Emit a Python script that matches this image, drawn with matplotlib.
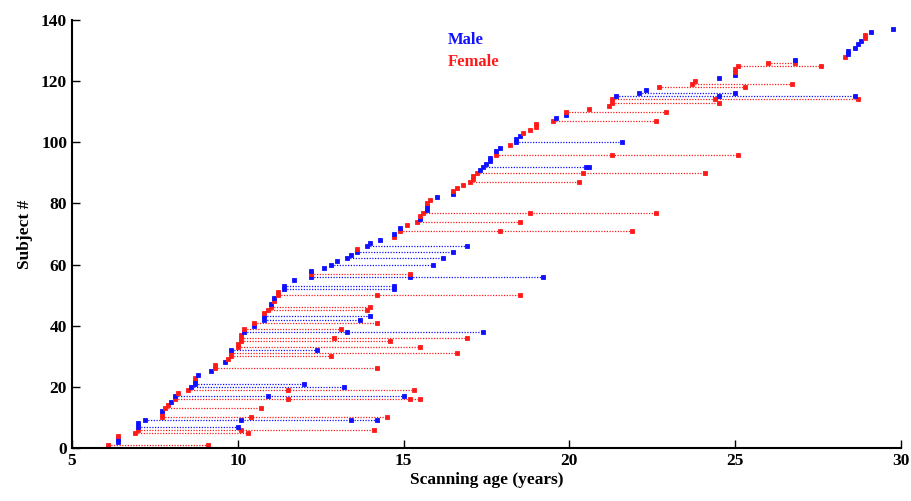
import matplotlib
matplotlib.use('Agg')
import matplotlib.pyplot as plt

plt.rcParams['font.family'] = ['Liberation Serif', 'DejaVu Serif']
plt.rcParams['font.weight'] = 'bold'

# subject number, sex and scanning ages (years)
subjects = list(range(1, 54)) + list(range(55, 138))
sex = list(
    "FMMFFFMMMF"   # 1-10
    "FMFFMFMFFM"   # 11-20
    "MMFMMFFMFF"   # 21-30
    "FMFFFFFMFM"   # 31-40
    "FMMFFFMFMF"   # 41-50
    "FMM"          # 51-53
    "MMFMMMMMMM"   # 55-64
    "FMMMFMFMFF"   # 65-74
    "MFFMMFFMMF"   # 75-84
    "FFFFFFMMMM"   # 85-94
    "MFMMFMMMFF"   # 95-104
    "FFFMMFFFFF"   # 105-114
    "MMMFFFMMFF"   # 115-124
    "FFMFMMMMMF"   # 125-134
    "FMM"          # 135-137
)
scan_ages = [
    [6.1, 9.1], [6.4], [6.4], [6.4], [6.9, 10.3], [7.0, 10.1, 14.1], [7.0, 10.0], [7.0],
    [7.2, 10.1, 13.4, 14.2], [7.7, 10.4, 14.5], [7.7], [7.7], [7.8, 10.7], [7.9], [8.0],
    [8.1, 11.5, 15.2, 15.5], [8.1, 10.9, 15.0], [8.2], [8.5, 11.5, 15.3], [8.6, 13.2],
    [8.7, 12.0], [8.7], [8.7], [8.8], [9.2], [9.3, 14.2], [9.3], [9.6], [9.7], [9.8, 12.8],
    [9.8, 16.6], [9.8, 12.4], [10.0, 15.5], [10.0], [10.1, 14.6], [10.1, 12.9, 16.9], [10.1],
    [10.2, 13.3, 17.4], [10.2, 13.1], [10.5], [10.5, 14.2], [10.8, 13.7], [10.8, 14.0], [10.8],
    [10.9, 13.9], [11.0, 14.0], [11.0], [11.1], [11.1], [11.2, 14.2, 18.5], [11.2],
    [11.4, 14.7], [11.4, 14.7],
    [11.7], [12.2, 15.2, 19.2], [12.2, 15.2], [12.2], [12.6], [12.8, 15.9], [13.0],
    [13.3, 16.2], [13.4], [13.6, 16.5], [13.6], [13.9, 16.9], [14.0], [14.3], [14.7], [14.7],
    [14.9, 17.9, 21.9], [14.9], [15.1], [15.4, 18.5], [15.5], [15.5], [15.6, 18.8, 22.6],
    [15.7], [15.7], [15.7], [15.8], [16.0], [16.5], [16.5], [16.6], [16.8], [17.0, 20.3],
    [17.1], [17.1], [17.2, 20.4, 24.1], [17.3], [17.4, 20.5, 20.6], [17.5], [17.6], [17.6],
    [17.8, 21.3, 25.1], [17.8], [17.9], [18.2], [18.4, 21.6], [18.4], [18.5], [18.6], [18.8],
    [19.0], [19.0], [19.5, 22.6], [19.6], [19.9], [19.9, 22.9], [20.6], [21.2], [21.3, 24.5],
    [21.3, 24.4, 28.7], [21.4, 24.5, 28.6], [22.1, 25.0], [22.3], [22.7, 25.3], [23.7, 26.7],
    [23.8], [24.5], [25.0], [25.0], [25.0], [25.1, 27.6], [26.0, 26.8], [26.8], [28.3],
    [28.4], [28.4], [28.6], [28.7], [28.8], [28.9], [28.9], [29.1], [29.75],
]
colors = {'M': '#1010ff', 'F': '#ff1a1a'}

fig = plt.figure(figsize=(9.11, 5.01), dpi=100)
ax = fig.add_axes([0.079, 0.106, 0.910, 0.854])

for s, g, ages in zip(subjects, sex, scan_ages):
    c = colors[g]
    ax.plot(ages, [s] * len(ages), color=c, linestyle=(0, (1, 1.2)), linewidth=0.9,
            marker='s', markersize=2.8, markeredgewidth=0.6)

ax.text(0.4535, 0.953, 'Male', color=colors['M'], transform=ax.transAxes,
        fontsize=12, fontweight='bold', va='center')
ax.text(0.4535, 0.902, 'Female', color=colors['F'], transform=ax.transAxes,
        fontsize=12, fontweight='bold', va='center')

ax.set_xlim(5, 30)
ax.set_ylim(0, 140)
ax.set_xticks([5, 10, 15, 20, 25, 30])
ax.set_yticks(range(0, 141, 20))
ax.tick_params(direction='in', length=6, width=1, labelsize=12.5)
for lab in ax.get_xticklabels() + ax.get_yticklabels():
    lab.set_fontweight('bold')
ax.spines['top'].set_visible(False)
ax.spines['right'].set_visible(False)
ax.spines['left'].set_linewidth(1.5)
ax.spines['bottom'].set_linewidth(1.5)
ax.set_xlabel('Scanning age (years)', fontsize=12.5, fontweight='bold', labelpad=2)
ax.set_ylabel('Subject #', fontsize=12.5, fontweight='bold', labelpad=6)

fig.savefig('out.png', dpi=100)
